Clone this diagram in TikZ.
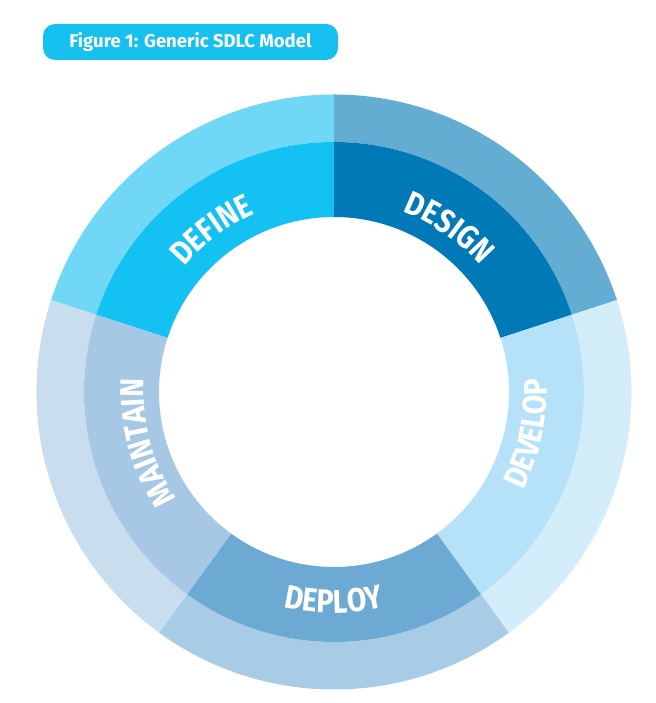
\documentclass[tikz,border=0pt]{standalone}
\usepackage{fontspec}
\usetikzlibrary{decorations.text}
\newfontfamily\firalab[FakeStretch=0.86]{Fira Sans}
\newfontfamily\firatit{Fira Sans}
\newcommand\labfmt{\firalab\bfseries\fontsize{33}{33}\selectfont\color{white}}
\newcommand\ringsector[5]{\fill[#5] (#1:#4) arc[start angle=#1,end angle=#2,radius=#4] -- (#2:#3) arc[start angle=#2,end angle=#1,radius=#3] -- cycle;}
\definecolor{titlecol}{RGB}{22,193,240}
\definecolor{defout}{RGB}{112,215,246}
\definecolor{defin}{RGB}{19,194,242}
\definecolor{desout}{RGB}{99,173,211}
\definecolor{desin}{RGB}{0,121,183}
\definecolor{devout}{RGB}{211,237,250}
\definecolor{devin}{RGB}{181,226,248}
\definecolor{depout}{RGB}{168,203,230}
\definecolor{depin}{RGB}{109,170,211}
\definecolor{mntout}{RGB}{200,221,238}
\definecolor{mntin}{RGB}{166,200,228}
\begin{document}
\begin{tikzpicture}[x=1pt,y=1pt,
  titlebox/.style={fill=titlecol, rounded corners=12pt, minimum width=295pt, minimum height=36pt, inner sep=0pt, text=white, font=\firatit\bfseries\fontsize{18.5}{18.5}\selectfont},
  lab/.style={decorate, decoration={text along path, text align=center, text={|\labfmt|#1}}}]
\useasboundingbox (0,0) rectangle (655,703);
\node[titlebox] (title) at (190.5,661) {Figure 1: Generic SDLC Model};
\begin{scope}[shift={(334,311)}]
  % outer ring
  \ringsector{162}{90}{250}{297.5}{defout}
  \ringsector{90}{18}{250}{297.5}{desout}
  \ringsector{18}{-54}{250}{297.5}{devout}
  \ringsector{-54}{-126}{250}{297.5}{depout}
  \ringsector{-126}{-198}{250}{297.5}{mntout}
  % inner ring
  \ringsector{162}{90}{175}{250}{defin}
  \ringsector{90}{18}{175}{250}{desin}
  \ringsector{18}{-54}{175}{250}{devin}
  \ringsector{-54}{-126}{175}{250}{depin}
  \ringsector{-126}{-198}{175}{250}{mntin}
  % labels
  \path[lab=DEFINE] (177:195) arc[start angle=177,end angle=77,radius=195];
  \path[lab=DESIGN] (105:193) arc[start angle=105,end angle=5,radius=193];
  \path[lab=DEVELOP] (-62:213) arc[start angle=-62,end angle=38,radius=213];
  \path[lab=DEPLOY] (-140:221) arc[start angle=-140,end angle=-40,radius=221];
  \path[lab=MAINTAIN] (245:190) arc[start angle=245,end angle=145,radius=190];
\end{scope}
\end{tikzpicture}
\end{document}
